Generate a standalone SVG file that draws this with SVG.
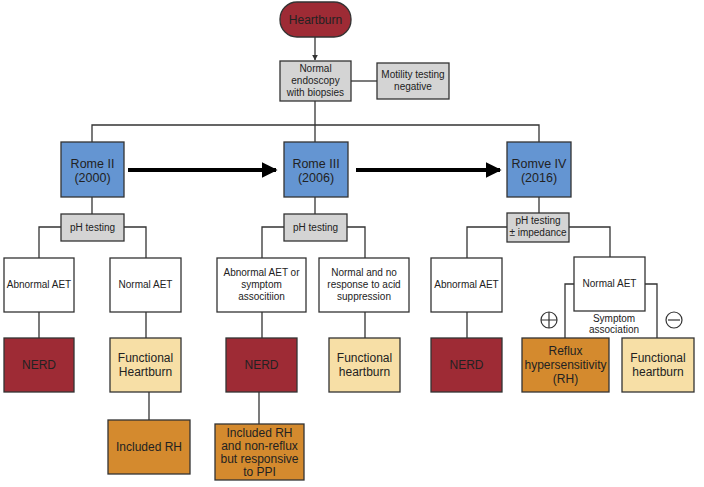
<svg xmlns="http://www.w3.org/2000/svg" width="704" height="487" viewBox="0 0 704 487">
<style>
rect,path.n{stroke:#333;stroke-width:1.3}
.red{fill:#9E2B35}.blue{fill:#6495D2}.gray{fill:#D4D4D4}.wh{fill:#fff}.tan{fill:#F7DFA6}.or{fill:#D48A2E}
text{font-family:"Liberation Sans",Arial,sans-serif;text-anchor:middle;fill:#222}
.s{font-size:10px}.m{font-size:12px}.l{font-size:12.5px}
.c line,.c path{stroke:#333;stroke-width:1.3;fill:none}
</style>
<defs><marker id="a" viewBox="0 0 10 10" refX="9" refY="5" markerWidth="6" markerHeight="6" orient="auto" markerUnits="userSpaceOnUse"><path d="M0,0L10,5L0,10z" fill="#333"/></marker>
<marker id="b" viewBox="0 0 10 10" refX="9" refY="5" markerWidth="4" markerHeight="4" orient="auto"><path d="M0,0L10,5L0,10z" fill="#000"/></marker></defs>
<g class="c">
<line x1="315" y1="37" x2="315" y2="60" marker-end="url(#a)"/>
<line x1="351" y1="81" x2="377" y2="81"/>
<line x1="315" y1="101" x2="315" y2="142"/>
<path d="M92,142V125H539V142"/>
<line x1="128" y1="170" x2="276" y2="170" style="stroke:#000;stroke-width:4" marker-end="url(#b)"/>
<line x1="356" y1="170" x2="500" y2="170" style="stroke:#000;stroke-width:4" marker-end="url(#b)"/>
<line x1="92" y1="197" x2="92" y2="214"/><line x1="315" y1="197" x2="315" y2="214"/><line x1="539" y1="197" x2="539" y2="213"/>
<path d="M61,227H39V338"/><path d="M124,227H146V338"/>
<path d="M284,227H262V338"/><path d="M347,227H365V338"/>
<path d="M507,227H467V338"/><path d="M569,227H610V257"/>
<path d="M574,284H565V338"/><path d="M645,284H657V338"/>
<line x1="149" y1="392" x2="149" y2="420"/><line x1="259" y1="392" x2="259" y2="424"/>
</g>
<g id="heartburn"><rect class="red" x="280" y="2" width="71" height="35" rx="17"/><text class="m" x="315.5" y="24">Heartburn</text></g>
<g id="endo"><rect class="gray" x="280" y="61" width="71" height="40"/><text class="s" x="315.5" y="72">Normal</text><text class="s" x="315.5" y="84">endoscopy</text><text class="s" x="315.5" y="96">with biopsies</text></g>
<g id="motility"><rect class="gray" x="377" y="63" width="72" height="36"/><text class="s" x="413" y="78">Motility testing</text><text class="s" x="413" y="90">negative</text></g>
<g id="rome2"><rect class="blue" x="61" y="142" width="63" height="55"/><text class="l" x="92.5" y="168">Rome II</text><text class="l" x="92.5" y="182">(2000)</text></g>
<g id="rome3"><rect class="blue" x="284" y="142" width="64" height="55"/><text class="l" x="316" y="168">Rome III</text><text class="l" x="316" y="182">(2006)</text></g>
<g id="rome4"><rect class="blue" x="507" y="142" width="64" height="55"/><text class="l" x="539" y="168">Romve IV</text><text class="l" x="539" y="182">(2016)</text></g>
<g id="ph2"><rect class="gray" x="61" y="214" width="63" height="27"/><text class="s" x="92.5" y="231">pH testing</text></g>
<g id="ph3"><rect class="gray" x="284" y="214" width="63" height="27"/><text class="s" x="315.5" y="231">pH testing</text></g>
<g id="ph4"><rect class="gray" x="507" y="213" width="62" height="29"/><text class="s" x="538" y="224">pH testing</text><text class="s" x="538" y="236">± impedance</text></g>
<g id="ab2"><rect class="wh" x="4" y="258" width="70" height="54"/><text class="s" x="39" y="288">Abnormal AET</text></g>
<g id="no2"><rect class="wh" x="110" y="258" width="71" height="54"/><text class="s" x="145.5" y="288">Normal AET</text></g>
<g id="ab3"><rect class="wh" x="217" y="258" width="89" height="54"/><text class="s" x="261.5" y="276">Abnormal AET or</text><text class="s" x="261.5" y="288">symptom</text><text class="s" x="261.5" y="300">associtiion</text></g>
<g id="no3"><rect class="wh" x="319" y="258" width="90" height="54"/><text class="s" x="364" y="276">Normal and no</text><text class="s" x="364" y="288">response to acid</text><text class="s" x="364" y="300">suppression</text></g>
<g id="ab4"><rect class="wh" x="431" y="258" width="71" height="54"/><text class="s" x="466.5" y="288">Abnormal AET</text></g>
<g id="no4"><rect class="wh" x="574" y="257" width="71" height="54"/><text class="s" x="609.5" y="287">Normal AET</text></g>
<g id="sa"><text class="s" x="614" y="322">Symptom</text><text class="s" x="614" y="333">association</text>
<circle cx="549" cy="320" r="8" fill="none" stroke="#333" stroke-width="1.2"/><path d="M541,320H557M549,312V328" stroke="#333" stroke-width="1.2"/>
<circle cx="674" cy="320" r="8" fill="none" stroke="#333" stroke-width="1.2"/><path d="M668,320H680" stroke="#333" stroke-width="1.2"/></g>
<g id="nerd2"><rect class="red" x="4" y="338" width="70" height="54"/><text class="m" x="39" y="369">NERD</text></g>
<g id="fh2"><rect class="tan" x="110" y="338" width="71" height="54"/><text class="m" x="145.5" y="362">Functional</text><text class="m" x="145.5" y="376">Heartburn</text></g>
<g id="nerd3"><rect class="red" x="226" y="338" width="71" height="54"/><text class="m" x="261.5" y="369">NERD</text></g>
<g id="fh3"><rect class="tan" x="329" y="338" width="71" height="54"/><text class="m" x="364.5" y="362">Functional</text><text class="m" x="364.5" y="376">heartburn</text></g>
<g id="nerd4"><rect class="red" x="431" y="338" width="71" height="54"/><text class="m" x="466.5" y="369">NERD</text></g>
<g id="rh"><rect class="or" x="522" y="338" width="87" height="54"/><text class="m" x="565.5" y="355">Reflux</text><text class="m" x="565.5" y="369">hypersensitivity</text><text class="m" x="565.5" y="383">(RH)</text></g>
<g id="fh4"><rect class="tan" x="622" y="338" width="72" height="54"/><text class="m" x="658" y="362">Functional</text><text class="m" x="658" y="376">heartburn</text></g>
<g id="irh"><rect class="or" x="108" y="420" width="82" height="54"/><text class="m" x="149" y="451">Included RH</text></g>
<g id="irh2"><rect class="or" x="215" y="424" width="89" height="56"/><text class="m" x="259.5" y="437">Included RH</text><text class="m" x="259.5" y="450">and non-reflux</text><text class="m" x="259.5" y="463">but responsive</text><text class="m" x="259.5" y="476">to PPI</text></g>
</svg>
